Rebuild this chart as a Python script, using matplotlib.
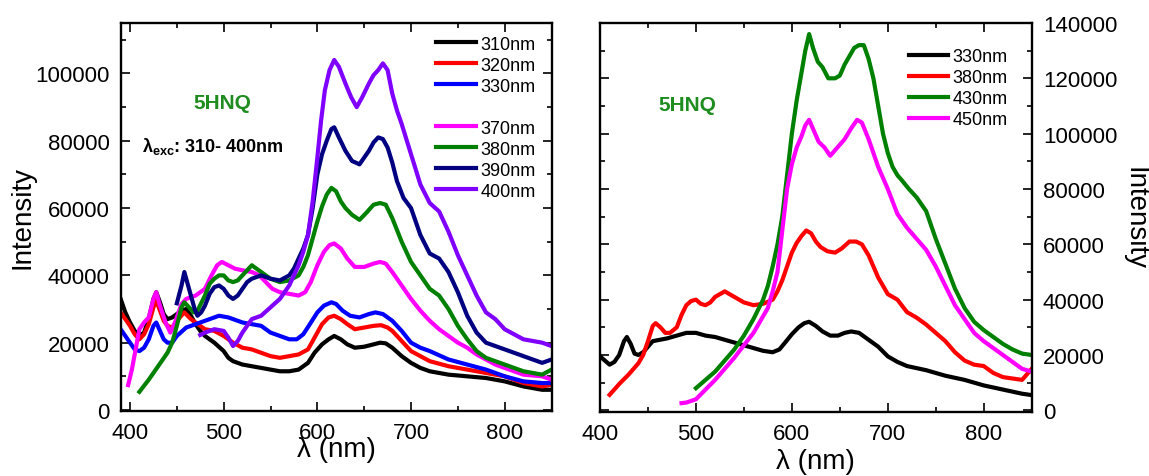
import numpy as np
import matplotlib.pyplot as plt
from matplotlib.lines import Line2D

plt.rcParams['font.family'] = ['Liberation Sans', 'DejaVu Sans']
plt.rcParams['mathtext.fontset'] = 'custom'
plt.rcParams['mathtext.rm'] = 'Liberation Sans'
plt.rcParams['mathtext.bf'] = 'Liberation Sans:bold'

# ---- lewy panel: wzbudzenie 310-400 nm ----
wl_310 = [390, 395, 400, 405, 410, 415, 420, 425, 428, 432, 436, 440, 445, 450, 455, 460, 465, 470,
          475, 480, 490, 500, 505, 510, 520, 530, 540, 550, 560, 570, 580, 590, 597, 605, 612, 618,
          625, 632, 640, 650, 660, 667, 673, 680, 690, 700, 710, 720, 740, 760, 780, 800, 820, 840, 850]
int_310 = [33000, 29000, 26000, 23500, 22000, 23000, 27000, 33000, 35000, 32000, 28500, 27000, 27500,
           28500, 29500, 30000, 28000, 25500, 23500, 22000, 20000, 17500, 15500, 14500, 13500, 13000,
           12500, 12000, 11500, 11500, 12000, 14000, 17000, 19500, 21000, 22000, 21000, 19500, 18500,
           18800, 19500, 20000, 19800, 18500, 16000, 14000, 12500, 11500, 10500, 10000, 9500, 8500,
           7000, 6000, 6000]

wl_320 = [390, 395, 400, 405, 410, 415, 420, 425, 428, 432, 436, 440, 445, 450, 458, 465, 470, 480,
          490, 500, 510, 520, 530, 540, 550, 560, 570, 580, 590, 597, 605, 612, 618, 625, 632, 640,
          650, 660, 668, 675, 680, 690, 700, 710, 720, 740, 760, 780, 800, 820, 840, 850]
int_320 = [29000, 27000, 25000, 22500, 21000, 22500, 25500, 30500, 32500, 29500, 26500, 25000, 24500,
           26500, 29000, 27000, 26000, 24000, 23500, 22000, 20000, 18500, 18000, 17000, 16000, 15500,
           16000, 16500, 18000, 21500, 25500, 27500, 28000, 27000, 25500, 24000, 24500, 25000, 25200,
           24500, 23500, 20500, 17500, 16000, 14500, 13000, 12000, 11000, 10000, 8000, 7000, 7500]

wl_330 = [390, 395, 400, 405, 410, 415, 420, 425, 428, 432, 436, 440, 445, 450, 460, 470, 480, 490,
          495, 505, 520, 530, 540, 550, 560, 570, 578, 585, 592, 600, 607, 615, 620, 627, 635, 645,
          655, 662, 670, 680, 690, 700, 710, 720, 740, 760, 780, 800, 820, 840, 850]
int_330 = [24000, 22000, 20000, 18000, 17500, 18500, 21000, 25000, 26000, 23500, 21000, 20000, 20000,
           22000, 24500, 25500, 26500, 27500, 28000, 27500, 26000, 25500, 25000, 23000, 22000, 21000,
           21000, 22500, 25500, 29000, 31000, 32000, 31500, 29500, 28000, 27500, 28500, 29000, 28500,
           26500, 23500, 20000, 18500, 17500, 15000, 13500, 12000, 10000, 8500, 8000, 8000]

wl_370 = [398, 402, 406, 410, 415, 420, 425, 428, 432, 438, 443, 448, 455, 460, 470, 480, 487, 493,
          498, 505, 512, 520, 530, 538, 545, 552, 560, 570, 580, 587, 593, 600, 607, 613, 618, 625,
          632, 640, 650, 660, 667, 673, 680, 690, 700, 710, 720, 730, 740, 750, 760, 770, 780, 790,
          800, 820, 840, 850]
int_370 = [7400, 12000, 18000, 24000, 26000, 27500, 33000, 35000, 31000, 26000, 23000, 26000, 31500,
           33000, 34000, 36000, 40000, 43000, 44000, 43000, 42000, 41500, 41000, 40000, 38000, 36000,
           35000, 34500, 34000, 35000, 38000, 43000, 47000, 49000, 49500, 48000, 45000, 42500, 42500,
           43500, 44000, 43500, 41000, 37000, 33000, 29500, 26500, 24000, 22000, 20000, 18500, 16500,
           15000, 13500, 12500, 10500, 10000, 9000]

wl_380 = [410, 420, 430, 440, 445, 450, 455, 458, 463, 468, 472, 480, 485, 490, 495, 500, 505, 510,
          515, 520, 525, 530, 535, 540, 550, 560, 570, 580, 585, 590, 595, 600, 605, 610, 615, 620,
          625, 630, 637, 645, 652, 660, 667, 673, 680, 685, 690, 700, 710, 720, 730, 740, 750, 760,
          770, 780, 790, 800, 820, 840, 850]
int_380 = [5400, 9000, 13000, 17000, 20000, 25000, 30500, 32000, 30500, 29000, 29500, 34000, 37500,
           39000, 40000, 40000, 38500, 38000, 38500, 40000, 41500, 43000, 42000, 41000, 39000, 38000,
           38500, 40000, 42500, 46000, 51000, 56000, 60500, 64000, 66000, 65000, 62000, 60000, 58000,
           56500, 58500, 61000, 61500, 61000, 57000, 53500, 50000, 44000, 40000, 36000, 34000, 30000,
           25000, 21000, 17500, 15500, 14500, 13500, 11500, 10500, 12000]

wl_390 = [450, 455, 458, 461, 465, 469, 472, 476, 480, 485, 490, 495, 500, 505, 510, 515, 520, 525,
          530, 540, 550, 560, 570, 575, 580, 585, 590, 595, 600, 605, 610, 615, 618, 623, 630, 637,
          645, 650, 655, 660, 665, 670, 675, 680, 685, 692, 700, 710, 720, 730, 740, 750, 760, 770,
          780, 790, 800, 820, 840, 850]
int_390 = [31700, 37000, 41000, 38000, 34000, 30000, 28000, 29000, 31000, 34500, 36500, 37000, 36000,
           34000, 33000, 34000, 36000, 38000, 39000, 40000, 39000, 38500, 40000, 42000, 45000, 48000,
           52000, 60000, 70000, 76000, 80000, 83500, 84000, 81000, 77000, 74000, 73000, 75000, 77000,
           79500, 81000, 80500, 78000, 73500, 68000, 63000, 60000, 52000, 46500, 45000, 41000, 35000,
           28000, 23000, 20000, 19000, 18000, 16000, 14000, 15000]

wl_400 = [475, 480, 490, 500, 505, 510, 515, 520, 530, 540, 550, 560, 570, 580, 585, 590, 595, 600,
          604, 608, 613, 618, 623, 630, 636, 642, 648, 655, 660, 665, 670, 675, 680, 685, 690, 700,
          710, 720, 730, 740, 750, 760, 770, 780, 790, 800, 810, 820, 840, 850]
int_400 = [22300, 23000, 24000, 23500, 21500, 19000, 20500, 23000, 27000, 28000, 30500, 33000, 37000,
           43000, 47000, 52000, 62000, 75000, 86000, 95000, 101000, 104000, 102000, 97000, 93000,
           90000, 93000, 97000, 99500, 101000, 103000, 101000, 94000, 89000, 85000, 76000, 67000,
           61500, 59000, 53000, 46000, 40000, 34000, 29000, 27000, 24000, 22500, 21000, 20000, 19000]

# ---- prawy panel: wzbudzenie 330-450 nm ----
wl_r330 = [400, 405, 410, 415, 420, 425, 428, 432, 436, 440, 445, 450, 455, 470, 480, 490, 500, 510,
           520, 530, 540, 550, 560, 570, 580, 587, 593, 600, 607, 613, 618, 625, 632, 640, 648, 655,
           662, 670, 680, 690, 700, 710, 720, 740, 760, 780, 800, 820, 840, 850]
int_r330 = [19500, 18000, 16500, 17500, 20000, 25000, 26500, 24000, 20500, 20000, 21000, 23000, 25000,
            26000, 27000, 28000, 28000, 27000, 26500, 25500, 24500, 23500, 22500, 21500, 21000, 22000,
            24500, 27500, 30000, 31500, 32000, 30500, 28500, 27000, 27000, 28000, 28500, 28000, 25500,
            23000, 19500, 17500, 16000, 14500, 12500, 11000, 9000, 7500, 6000, 5500]

wl_r380 = [410, 420, 430, 440, 445, 450, 455, 458, 463, 468, 473, 480, 485, 490, 495, 500, 505, 510,
           515, 520, 525, 530, 535, 540, 550, 560, 570, 580, 585, 590, 595, 600, 605, 610, 615, 620,
           625, 630, 637, 645, 652, 660, 667, 673, 680, 685, 690, 700, 710, 720, 730, 740, 750, 760,
           770, 780, 790, 800, 810, 820, 840, 850]
int_r380 = [5600, 9500, 13000, 17000, 20000, 25000, 30500, 31500, 30000, 28000, 28000, 30000, 34500,
            38000, 39500, 40000, 38500, 38000, 39000, 41000, 42000, 43000, 42000, 41000, 39000, 38000,
            38500, 40000, 43000, 47000, 52000, 57000, 60500, 63000, 65000, 64000, 61000, 59000, 57500,
            57000, 58500, 61000, 61000, 60000, 56000, 52000, 48000, 42000, 40000, 35500, 33500, 31000,
            28000, 25000, 21000, 18000, 16500, 16000, 13500, 12000, 11000, 15000]

wl_r430 = [500, 510, 520, 530, 540, 550, 560, 570, 575, 580, 585, 590, 595, 600, 605, 610, 614, 618,
           622, 627, 632, 638, 645, 650, 655, 660, 665, 670, 675, 680, 685, 690, 695, 700, 705, 710,
           715, 722, 730, 740, 750, 760, 770, 780, 790, 800, 810, 820, 830, 840, 850]
int_r430 = [8000, 11000, 14000, 18000, 22000, 27000, 33000, 40000, 45000, 52000, 60000, 70000, 85000,
            100000, 112000, 122000, 130000, 136000, 131000, 126000, 124000, 120000, 120000, 121000,
            125000, 128000, 131000, 132000, 132000, 127000, 120000, 110000, 100000, 93000, 88000,
            85000, 83000, 80000, 77000, 72000, 62000, 53000, 44000, 37000, 32000, 29000, 26500, 24000,
            22000, 20500, 20000]

wl_r450 = [485, 490, 500, 510, 520, 530, 540, 550, 560, 570, 575, 580, 585, 590, 595, 600, 605, 610,
           614, 618, 623, 628, 634, 640, 645, 650, 655, 662, 668, 673, 680, 685, 690, 695, 700, 710,
           720, 730, 740, 750, 760, 770, 780, 790, 800, 810, 820, 830, 840, 850]
int_r450 = [2600, 2800, 4000, 7500, 11000, 15000, 19000, 23500, 28000, 34000, 37000, 43000, 50000,
            65000, 80000, 89000, 95000, 99000, 103000, 105000, 101000, 97000, 95000, 92000, 94000,
            96000, 98000, 102000, 105000, 104000, 98000, 93000, 88000, 84000, 80000, 71000, 66000,
            62000, 58000, 52000, 45000, 38000, 33000, 28000, 25000, 22500, 20000, 17500, 15000, 14000]

left_series = [(wl_310, int_310, 'black', '310nm'),
               (wl_320, int_320, '#ff0000', '320nm'),
               (wl_330, int_330, '#0000ff', '330nm'),
               (wl_370, int_370, '#ff00ff', '370nm'),
               (wl_380, int_380, '#008000', '380nm'),
               (wl_390, int_390, '#000080', '390nm'),
               (wl_400, int_400, '#8000ff', '400nm')]
right_series = [(wl_r330, int_r330, 'black', '330nm'),
                (wl_r380, int_r380, '#ff0000', '380nm'),
                (wl_r430, int_r430, '#008000', '430nm'),
                (wl_r450, int_r450, '#ff00ff', '450nm')]

fig = plt.figure(figsize=(11.49, 4.77), dpi=100)
ax1 = fig.add_axes([0.105, 0.1363, 0.375, 0.8134])
ax2 = fig.add_axes([0.5222, 0.1348, 0.3757, 0.8149])


def style_axes(ax):
    for sp in ax.spines.values():
        sp.set_linewidth(1.7)
    ax.tick_params(which='both', direction='in', top=True, right=True, width=1.2, labelsize=16)
    ax.tick_params(which='major', length=6.5, pad=8)
    ax.tick_params(which='minor', length=3.5)


leg_kw = dict(loc='upper right', frameon=False, fontsize=13, handlelength=2.2,
              handletextpad=0.25, labelspacing=0.22, borderpad=0, borderaxespad=0)

for wl, val, col, lab in left_series:
    ax1.plot(wl, val, color=col, lw=3, label=lab)
ax1.set_xlim(390, 850)
ax1.set_ylim(-300, 115000)
ax1.set_xticks([400, 500, 600, 700, 800])
ax1.set_xticks(np.arange(450, 851, 100), minor=True)
ax1.set_yticks(np.arange(0, 100001, 20000))
ax1.set_yticks(np.arange(10000, 115000, 20000), minor=True)
style_axes(ax1)
ax1.set_xlabel('λ (nm)', fontsize=20, labelpad=-5)
ax1.set_ylabel('Intensity', fontsize=20, labelpad=0)

# pusty wiersz w legendzie (przerwa między 330nm a 370nm)
h, l = ax1.get_legend_handles_labels()
blank = Line2D([], [], color='none')
h = h[:3] + [blank] + h[3:]
l = l[:3] + ['0nm'] + l[3:]
leg1 = ax1.legend(h, l, bbox_to_anchor=(0.963, 0.967), **leg_kw)
leg1.get_texts()[3].set_alpha(0)

ax1.text(0.235, 0.795, '5HNQ', transform=ax1.transAxes, color='#1e8c1e', fontsize=15,
         fontweight='bold', ha='center', va='center')
ax1.text(0.05, 0.685, r'λ$_{\mathbf{exc}}$: 310- 400nm', transform=ax1.transAxes, fontsize=13,
         fontweight='bold', ha='left', va='center')

for wl, val, col, lab in right_series:
    ax2.plot(wl, val, color=col, lw=3, label=lab)
ax2.set_xlim(400, 850)
ax2.set_ylim(-500, 140000)
ax2.set_xticks([400, 500, 600, 700, 800])
ax2.set_xticks(np.arange(450, 851, 100), minor=True)
ax2.set_yticks(np.arange(0, 140001, 20000))
ax2.set_yticks(np.arange(10000, 140000, 20000), minor=True)
style_axes(ax2)
ax2.tick_params(labelleft=False, labelright=True)
ax2.yaxis.set_label_position('right')
ax2.set_xlabel('λ (nm)', fontsize=20, labelpad=3)
ax2.set_ylabel('Intensity', fontsize=20, rotation=270, labelpad=22)
ax2.legend(bbox_to_anchor=(0.945, 0.935), **leg_kw)
ax2.text(0.203, 0.79, '5HNQ', transform=ax2.transAxes, color='#1e8c1e', fontsize=15,
         fontweight='bold', ha='center', va='center')

fig.savefig('out.png', dpi=100)
